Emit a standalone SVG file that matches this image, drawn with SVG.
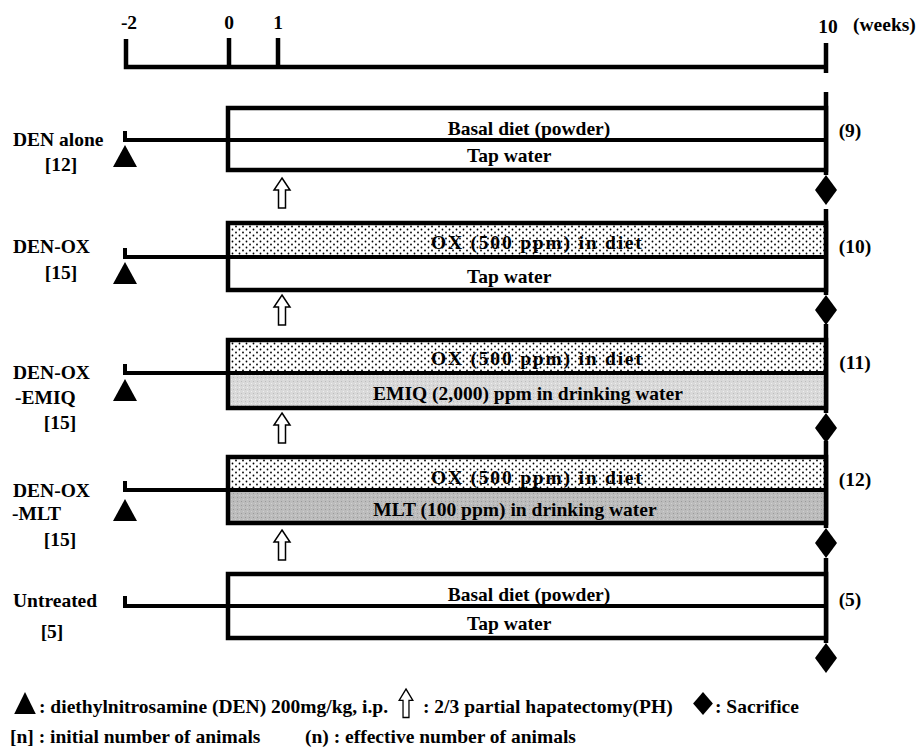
<svg xmlns="http://www.w3.org/2000/svg" xmlns:xlink="http://www.w3.org/1999/xlink" width="920" height="754" viewBox="0 0 920 754">
<style>
.t{font-family:"Liberation Serif","Times New Roman",serif;font-weight:bold;font-size:19.5px;fill:#000}
.c{text-anchor:middle}
.ox{letter-spacing:1.8px}
.ln{stroke:#000;stroke-width:4.5;fill:none}
.thin{stroke:#000;stroke-width:4;fill:none}
.out{fill:none;stroke:#000;stroke-width:4.5}
.blk{fill:#000}
.ph{fill:#fff;stroke:#000;stroke-width:1.5}
</style>
<defs>
<pattern id="dots" width="7" height="6" patternUnits="userSpaceOnUse">
<rect width="7" height="6" fill="#fff"/>
<circle cx="1.5" cy="1.5" r="0.9" fill="#000"/>
<circle cx="5" cy="4.5" r="0.9" fill="#000"/>
</pattern>
<pattern id="grey1" width="4" height="4" patternUnits="userSpaceOnUse">
<rect width="4" height="4" fill="#d9d9d9"/>
<rect x="1" y="1" width="1" height="1" fill="#bdbdbd"/>
<rect x="3" y="3" width="1" height="1" fill="#efefef"/>
</pattern>
<pattern id="grey2" width="4" height="4" patternUnits="userSpaceOnUse">
<rect width="4" height="4" fill="#bcbcbc"/>
<rect x="1" y="1" width="1" height="1" fill="#9a9a9a"/>
<rect x="3" y="3" width="1" height="1" fill="#d0d0d0"/>
</pattern>
<path id="tri" d="M0,0 L12,22 L-12,22 Z"/>
<path id="dia" d="M0,0 L11,15 L0,30 L-11,15 Z"/>
<path id="arr" d="M0,0 L8,12 L3.5,12 L3.5,30 L-3.5,30 L-3.5,12 L-8,12 Z"/>
</defs>
<rect width="920" height="754" fill="#fff"/>

<g id="axis">
<path class="ln" d="M126,39 V67 H826"/>
<path class="ln" d="M229,38 V67 M278,38 V67 M826,43 V73"/>
<text class="t c" x="129" y="29">-2</text>
<text class="t c" x="229" y="29">0</text>
<text class="t c" x="278" y="29">1</text>
<text class="t c" x="828" y="33">10</text>
<text class="t" x="853" y="31">(weeks)</text>
</g>

<g id="connectors">
<path class="thin" d="M125,131 V140 H228"/>
<path class="thin" d="M125,248 V257 H228"/>
<path class="thin" d="M125,364 V373 H228"/>
<path class="thin" d="M125,481 V490 H228"/>
<path class="thin" d="M125,596 V606 H228"/>
<path class="ln" d="M826,92 V175 M826,209 V295 M826,324 V413 M826,441 V528 M826,558 V643"/>
</g>

<g id="group-den-alone">
<rect x="228" y="108" width="598" height="62" fill="#fff"/>
<rect class="out" x="228" y="108" width="598" height="62"/>
<path class="thin" d="M228,140 H826"/>
<text class="t c" x="529" y="135">Basal diet (powder)</text>
<text class="t" x="467" y="162">Tap water</text>
<text class="t" x="13" y="146">DEN alone</text>
<text class="t c" x="61" y="171">[12]</text>
<use href="#tri" class="blk" x="125" y="145"/>
<use href="#arr" class="ph" x="282" y="178"/>
<use href="#dia" class="blk" x="826" y="175"/>
<text class="t c" x="850" y="137">(9)</text>
</g>

<g id="group-den-ox">
<rect x="228" y="223" width="598" height="34" fill="url(#dots)"/>
<rect x="228" y="257" width="598" height="33" fill="#fff"/>
<rect class="out" x="228" y="223" width="598" height="67"/>
<path class="thin" d="M228,257 H826"/>
<text class="t ox" x="431" y="249">OX (500 ppm) in diet</text>
<text class="t" x="467" y="283">Tap water</text>
<text class="t" x="13" y="253">DEN-OX</text>
<text class="t c" x="61" y="279">[15]</text>
<use href="#tri" class="blk" x="125" y="262"/>
<use href="#arr" class="ph" x="282" y="295"/>
<use href="#dia" class="blk" x="826" y="295"/>
<text class="t c" x="855" y="253">(10)</text>
</g>

<g id="group-den-ox-emiq">
<rect x="228" y="340" width="598" height="33" fill="url(#dots)"/>
<rect x="228" y="373" width="598" height="35" fill="url(#grey1)"/>
<rect class="out" x="228" y="340" width="598" height="68"/>
<path class="thin" d="M228,373 H826"/>
<text class="t ox" x="431" y="365">OX (500 ppm) in diet</text>
<text class="t c" x="528" y="400">EMIQ (2,000) ppm in drinking water</text>
<text class="t" x="13" y="379">DEN-OX</text>
<text class="t" x="15" y="404">-EMIQ</text>
<text class="t c" x="60" y="429">[15]</text>
<use href="#tri" class="blk" x="125" y="379"/>
<use href="#arr" class="ph" x="282" y="413"/>
<use href="#dia" class="blk" x="826" y="413"/>
<text class="t c" x="855" y="369">(11)</text>
</g>

<g id="group-den-ox-mlt">
<rect x="228" y="457" width="598" height="33" fill="url(#dots)"/>
<rect x="228" y="490" width="598" height="33" fill="url(#grey2)"/>
<rect class="out" x="228" y="457" width="598" height="66"/>
<path class="thin" d="M228,490 H826"/>
<text class="t ox" x="431" y="484">OX (500 ppm) in diet</text>
<text class="t c" x="515" y="516">MLT (100 ppm) in drinking water</text>
<text class="t" x="13" y="497">DEN-OX</text>
<text class="t" x="12" y="520">-MLT</text>
<text class="t c" x="60" y="546">[15]</text>
<use href="#tri" class="blk" x="125" y="499"/>
<use href="#arr" class="ph" x="282" y="530"/>
<use href="#dia" class="blk" x="826" y="528"/>
<text class="t c" x="855" y="486">(12)</text>
</g>

<g id="group-untreated">
<rect x="228" y="574" width="598" height="64" fill="#fff"/>
<rect class="out" x="228" y="574" width="598" height="64"/>
<path class="thin" d="M228,606 H826"/>
<text class="t c" x="529" y="601">Basal diet (powder)</text>
<text class="t" x="467" y="630">Tap water</text>
<text class="t" x="13" y="607">Untreated</text>
<text class="t c" x="52" y="638">[5]</text>
<use href="#dia" class="blk" x="826" y="643"/>
<text class="t c" x="850" y="606">(5)</text>
</g>

<g id="legend">
<use href="#tri" class="blk" transform="translate(25,692) scale(0.9,1)"/>
<text class="t" x="39" y="713">: diethylnitrosamine (DEN) 200mg/kg, i.p.</text>
<use href="#arr" class="ph" transform="translate(406,689) scale(0.85,0.95)"/>
<text class="t" x="423" y="713">: 2/3 partial hapatectomy(PH)</text>
<use href="#dia" class="blk" transform="translate(703,692) scale(0.9,0.77)"/>
<text class="t" x="715" y="713">: Sacrifice</text>
<text class="t" x="10" y="743">[n] : initial number of animals</text>
<text class="t" x="305" y="743">(n) : effective number of animals</text>
</g>
</svg>
